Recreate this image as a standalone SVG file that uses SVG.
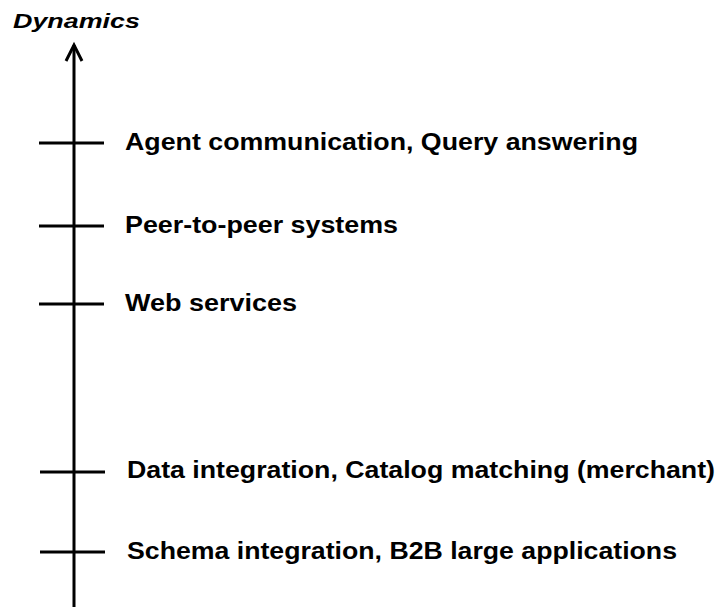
<svg xmlns="http://www.w3.org/2000/svg" width="721" height="607" viewBox="0 0 721 607">
  <style>
    .axis { stroke: #000; stroke-width: 3; fill: none; stroke-linecap: butt; }
    .tick { stroke: #000; stroke-width: 3; }
    .lbl { font-family: "Liberation Sans", Arial, sans-serif; font-weight: bold; font-size: 23px; fill: #000; }
    .title { font-family: "Liberation Sans", Arial, sans-serif; font-weight: bold; font-style: italic; font-size: 20px; fill: #000; }
  </style>
  <rect width="721" height="607" fill="#fff"/>

  <!-- axis title -->
  <g id="title">
    <text class="title" x="13" y="28" textLength="127" lengthAdjust="spacingAndGlyphs">Dynamics</text>
  </g>

  <!-- vertical axis with open arrowhead -->
  <g id="connectors">
    <line class="axis" x1="74" y1="45" x2="74" y2="607"/>
    <polyline class="axis" points="66,61 74,45 82,61" stroke-width="3.5" stroke-linejoin="miter"/>
  </g>

  <g id="agent">
    <line class="tick" x1="39" y1="143" x2="104" y2="143"/>
    <text class="lbl" x="125" y="150" textLength="513" lengthAdjust="spacingAndGlyphs">Agent communication, Query answering</text>
  </g>
  <g id="p2p">
    <line class="tick" x1="39" y1="226" x2="104" y2="226"/>
    <text class="lbl" x="125" y="233" textLength="273" lengthAdjust="spacingAndGlyphs">Peer-to-peer systems</text>
  </g>
  <g id="web">
    <line class="tick" x1="39" y1="304" x2="104" y2="304"/>
    <text class="lbl" x="125" y="311" textLength="172" lengthAdjust="spacingAndGlyphs">Web services</text>
  </g>
  <g id="data">
    <line class="tick" x1="40" y1="472" x2="105" y2="472"/>
    <text class="lbl" x="127" y="478" textLength="588" lengthAdjust="spacingAndGlyphs">Data integration, Catalog matching (merchant)</text>
  </g>
  <g id="schema">
    <line class="tick" x1="40" y1="552" x2="105" y2="552"/>
    <text class="lbl" x="127" y="559" textLength="550" lengthAdjust="spacingAndGlyphs">Schema integration, B2B large applications</text>
  </g>
</svg>
